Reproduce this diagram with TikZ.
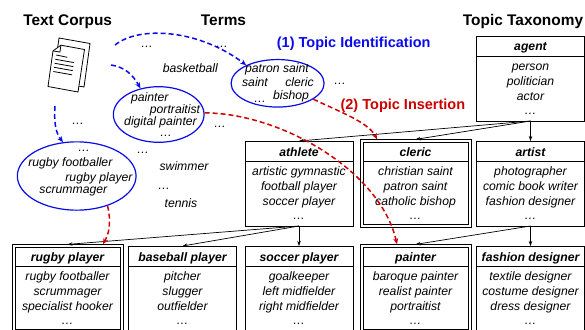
\documentclass[tikz,border=0pt]{standalone}
\usepackage{fontspec}
\setmainfont{Liberation Sans}
\usetikzlibrary{shapes.geometric,arrows.meta,calc}
\definecolor{myblue}{RGB}{10,10,235}
\definecolor{myred}{RGB}{204,0,0}
\tikzset{
  tb/.style={draw=none, minimum width=108pt, minimum height=85pt, inner sep=0pt, outer sep=0pt, fill=white},
  hl/.style={line width=0.7pt},
  hd/.style={font=\bfseries\itshape\fontsize{12.2}{14}\selectfont, anchor=base, inner sep=0pt},
  bt/.style={font=\itshape\fontsize{12.2}{14}\selectfont, anchor=base, inner sep=0pt},
  term/.style={font=\itshape\fontsize{12.2}{14}\selectfont, anchor=base, inner sep=0pt},
  dots/.style={term, text height=1.5pt, text depth=0pt},
  ttl/.style={font=\bfseries\fontsize{15.4}{18}\selectfont, anchor=base, inner sep=0pt},
  ann/.style={font=\bfseries\fontsize{14.5}{17}\selectfont, anchor=base, inner sep=0pt},
  ell/.style={draw=myblue, line width=1.2pt, ellipse, inner sep=0pt},
  barr/.style={draw=myblue, line width=1.5pt, dash pattern=on 5pt off 3pt, -{Stealth[length=6pt,width=5pt]}},
  rarr/.style={draw=myred, line width=1.5pt, dash pattern=on 5pt off 3pt, -{Stealth[length=6pt,width=5pt]}},
  tarr/.style={line width=0.7pt, -{Stealth[length=5pt,width=3.5pt]}},
  docp/.style={draw, line width=0.8pt, fill=white, line join=miter},
  docl/.style={line width=0.8pt},
}
\newcommand{\taxbox}[8]{%
  \node[tb] (#1) at (#2,#3+42.5) {};
  \if#8d
    \draw[hl] ($(#1.north west)+(1.4,1.4)$) rectangle ($(#1.south east)+(-1.4,-1.4)$);
    \draw[hl] ($(#1.north west)+(-1.6,-1.6)$) rectangle ($(#1.south east)+(1.6,1.6)$);
    \draw[hl] ($(#1.north west)+(1.4,20)$) -- ($(#1.north east)+(-1.4,20)$);
  \else
    \draw[hl] (#1.north west) rectangle (#1.south east);
    \draw[hl] ($(#1.north west)+(0,20)$) -- ($(#1.north east)+(0,20)$);
  \fi
  \node[hd] (#1-h) at ($(#1.north)+(0,15)$) {#4};
  \node[bt] (#1-a) at ($(#1.north)+(0,34.5)$) {#5};
  \node[bt] (#1-b) at ($(#1.north)+(0,49.5)$) {#6};
  \node[bt] (#1-c) at ($(#1.north)+(0,64.5)$) {#7};
  \node[dots] (#1-d) at ($(#1.north)+(0,78.5)$) {…};
}
\begin{document}
\begin{tikzpicture}[x=1pt,y=-1pt]
\clip (0,0) rectangle (585,329);
\fill[white] (0,0) rectangle (585,329);
% titles
\node[ttl] (t1) at (67.7,26) {Text Corpus};
\node[ttl] (t2) at (223.5,26) {Terms};
\node[ttl] (t3) at (523,26) {Topic Taxonomy};
\node[ann, text=myblue] (ann1) at (353.7,47.7) {(1) Topic Identification};
\node[ann, text=myred] (ann2) at (402.9,109.5) {(2) Topic Insertion};
% document icon
\draw[docp] (59,38) -- (90,43.5) -- (84,87) -- (53,81.5) -- cycle;
\draw[docp] (60.9,45.2) -- (84.5,49.5) -- (78,92) -- (48,86.5) -- (53,50.9) -- cycle;
\draw[docl] (53,50.9) -- (59.9,52.1) -- (60.9,45.2);
\draw[docl] (56.3,55) -- (67.3,57.3);
\draw[docl] (55.3,59.3) -- (74,62.6);
\draw[docl] (54.7,63.3) -- (73.4,66.6);
\draw[docl] (54,67.3) -- (72.7,70.6);
\draw[docl] (53.3,71.5) -- (72,74.8);
\coordinate (s1) at (115,45);
\coordinate (s2) at (111,65);
\coordinate (s3) at (55,106);
% ellipses
\node[ell, minimum width=93, minimum height=47.5] (e1) at (277.6,83.3) {};
\node[ell, minimum width=90.7, minimum height=55.6] (e2) at (158.7,114.5) {};
\node[ell, minimum width=118.7, minimum height=68.3] (e3) at (76.7,176) {};
\node[term] (e1a) at (277,72.5) {patron saint};
\node[term] (e1b) at (255,86) {saint};
\node[term] (e1c) at (299.5,86) {cleric};
\node[term] (e1d) at (291,99) {bishop};
\node[dots] (e1e) at (260,102.5) {…};
\node[term] (e2a) at (149.7,101.5) {painter};
\node[term] (e2b) at (175,113.5) {portraitist};
\node[term] (e2c) at (160.5,125.5) {digital painter};
\node[dots] (e2d) at (166,136.5) {…};
\node[dots] (e3a) at (84,151) {…};
\node[term] (e3b) at (70.3,166.5) {rugby footballer};
\node[term] (e3c) at (99,181) {rugby player};
\node[term] (e3d) at (73.3,193.5) {scrummager};
% loose terms
\node[dots] (w1) at (147,47.5) {…};
\node[dots] (w2) at (222,47.5) {…};
\node[term] (w3) at (190.3,72.5) {basketball};
\node[dots] (w4) at (340,84) {…};
\node[dots] (w5) at (78,124) {…};
\node[dots] (w6) at (220,127.5) {…};
\node[dots] (w7) at (143,153.5) {…};
\node[term] (w8) at (184,170) {swimmer};
\node[dots] (w9) at (164,189) {…};
\node[term] (w10) at (181,207) {tennis};
% taxonomy
\taxbox{agent}{530.5}{36}{agent}{person}{politician}{actor}{s}
\taxbox{athlete}{299}{141}{athlete}{artistic gymnastic}{football player}{soccer player}{s}
\taxbox{cleric}{415.5}{141}{cleric}{christian saint}{patron saint}{catholic bishop}{d}
\taxbox{artist}{530.5}{141}{artist}{photographer}{comic book writer}{fashion designer}{s}
\taxbox{rugby}{67.5}{246}{rugby player}{rugby footballer}{scrummager}{specialist hooker}{d}
\taxbox{baseball}{182.5}{246}{baseball player}{pitcher}{slugger}{outfielder}{s}
\taxbox{soccer}{299}{246}{soccer player}{goalkeeper}{left midfielder}{right midfielder}{s}
\taxbox{painter}{415.5}{246}{painter}{baroque painter}{realist painter}{portraitist}{d}
\taxbox{fashion}{530.5}{246}{fashion designer}{textile designer}{costume designer}{dress designer}{s}
\draw[tarr] (agent.south) -- (athlete.north);
\draw[tarr] (agent.south) -- ($(cleric.north)+(0,-1.6)$);
\draw[tarr] (agent.south) -- (artist.north);
\draw[tarr] (athlete.south) -- ($(rugby.north)+(0,-1.6)$);
\draw[tarr] (athlete.south) -- (baseball.north);
\draw[tarr] (athlete.south) -- (soccer.north);
\draw[tarr] (artist.south) -- ($(painter.north)+(0,-1.6)$);
\draw[tarr] (artist.south) -- (fashion.north);
% blue arrows
\draw[barr] (s1) .. controls (140,25) and (200,30) .. (e1.150);
\draw[barr] (s2) .. controls (125,67) and (133,75) .. (e2.125);
\draw[barr] (s3) .. controls (54,120) and (55,132) .. (e3.112);
% red arrows
\draw[rarr] (e2.2) .. controls (280,113) and (380,170) .. ($(painter.north)+(-18.5,-1.8)$);
\draw[rarr] (e1.-24) .. controls (340,112) and (368,122) .. ($(cleric.north)+(-38.5,-1.8)$);
\draw[rarr] (e3.-44) .. controls (112,225) and (108,235) .. ($(rugby.north)+(35.5,-1.8)$);
\end{tikzpicture}
\end{document}
